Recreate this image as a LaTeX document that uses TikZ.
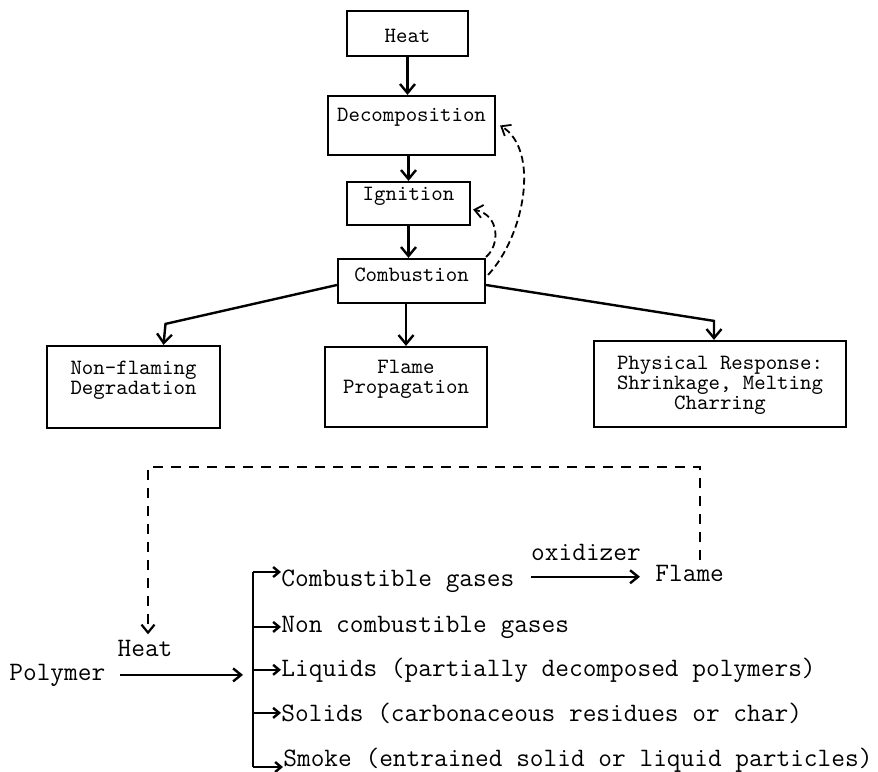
\documentclass[tikz,border=0pt]{standalone}
\usepackage{fontspec}
\usetikzlibrary{arrows.meta,calc}

\tikzset{
  box/.style={draw, line width=1.1pt, inner sep=0pt},
  toptxt/.style={font=\ttfamily\fontsize{10.9}{10}\selectfont, align=center, inner sep=0pt},
  lowtxt/.style={font=\ttfamily\fontsize{13.3}{14}\selectfont, inner sep=0pt},
  arr/.style={line width=1.2pt, -{Straight Barb[length=4.5pt,width=7.5pt]}},
  arrsmall/.style={line width=1.2pt, -{Straight Barb[length=3pt,width=5pt]}},
  arrbig/.style={line width=1.2pt, -{Straight Barb[length=4pt,width=6.5pt]}},
  darr/.style={line width=0.9pt, dash pattern=on 3.5pt off 2pt, -{Straight Barb[length=4pt,width=6.5pt]}},
  fbarr/.style={line width=1.1pt, dash pattern=on 5pt off 4pt, -{Straight Barb[length=4pt,width=6.5pt]}}
}

\begin{document}
\begin{tikzpicture}[x=0.5pt, y=-0.5pt]
    \useasboundingbox (0,0) rectangle (878,771);

    % Draw boxes
    \node[box, minimum width=60.5pt, minimum height=22.5pt] (heat) at (407.5,33.5) {};
    \node[box, minimum width=83.5pt, minimum height=29.5pt] (decomp) at (411.5,125.5) {};
    \node[box, minimum width=61.5pt, minimum height=21.5pt] (ign) at (408.5,203.5) {};
    \node[box, minimum width=73.5pt, minimum height=22pt] (comb) at (411.5,281) {};
    \node[box, minimum width=86.5pt, minimum height=41pt] (nonflame) at (133.5,387) {};
    \node[box, minimum width=81pt, minimum height=40pt] (flameprop) at (406,387) {};
    \node[box, minimum width=126pt, minimum height=43pt] (phys) at (720,384) {};

    % Box texts
    \node[toptxt, anchor=base] (heat-t) at (407.5,42) {Heat};
    \node[toptxt, anchor=base] (decomp-t) at (411.5,121) {Decomposition};
    \node[toptxt, anchor=base] (ign-t) at (408.5,200) {Ignition};
    \node[toptxt, anchor=base] (comb-t) at (411.5,281) {Combustion};
    \node[toptxt, anchor=north] (nonflame-t) at (133.5,361) {Non-flaming\\Degradation};
    \node[toptxt, anchor=north] (flameprop-t) at (406,360) {Flame\\Propagation};
    \node[toptxt, anchor=north] (phys-t) at (720,356) {Physical Response:\\Shrinkage, Melting\\Charring};

    % Draw connections
    \draw[arr] (heat) -- (heat |- decomp.north);
    \draw[arr] (ign |- decomp.south) -- (ign.north);
    \draw[arr] (ign) -- (ign |- comb.north);
    \draw[arr] (flameprop |- comb.south) -- (flameprop.north);
    \draw[arr] ($(comb.west)+(0,4)$) -- ($(nonflame.north)+(32,-21)$) -- ($(nonflame.north)+(30,0)$);
    \draw[arr] ($(comb.east)+(0,4)$) -- ($(phys.north)+(-6,-19)$) -- ($(phys.north)+(-6,0)$);

    % Feedback loops
    \draw[darr] ($(comb.north east)+(2,17)$) .. controls (525,235) and (540,150) .. ($(decomp.east)+(4,0)$);
    \draw[darr] ($(comb.north east)+(0,-1)$) .. controls (500,245) and (500,215) .. ($(ign.east)+(2,6)$);

    % Polymer scheme
    \node[lowtxt, anchor=base west] (polymer) at (9,680) {Polymer};
    \node[lowtxt, anchor=base] (heat2) at (145,656) {Heat};
    \coordinate (split) at (243,674);
    \draw[arrbig, shorten <=7pt] (polymer.east) -- (polymer.east -| split);

    \node[lowtxt, anchor=base west] (gasc) at (281,586) {Combustible gases};
    \node[lowtxt, anchor=base west] (gasn) at (281,632) {Non combustible gases};
    \node[lowtxt, anchor=base west] (liq) at (281,676) {Liquids (partially decomposed polymers)};
    \node[lowtxt, anchor=base west] (sol) at (281,721) {Solids (carbonaceous residues or char)};
    \node[lowtxt, anchor=base west] (smoke) at (283,766) {Smoke (entrained solid or liquid particles)};

    \coordinate (btop) at (253,572);
    \coordinate (bbot) at (253,767);
    \draw[line width=1.2pt] (btop) -- (bbot);
    \draw[arrsmall] (btop) -- (btop -| gasc.west);
    \draw[arrsmall] (bbot |- gasn.west) -- (gasn.west);
    \draw[arrsmall] (bbot |- liq.west) -- (liq.west);
    \draw[arrsmall] (bbot |- sol.west) -- (sol.west);
    \draw[arrsmall] (bbot) -- (bbot -| smoke.west);

    \node[lowtxt, anchor=base] (oxi) at (586,560) {oxidizer};
    \node[lowtxt, anchor=base west] (flame) at (655,581) {Flame};
    \draw[arrbig, shorten <=8pt, shorten >=7.5pt] ([yshift=2pt]gasc.east) -- ([yshift=2pt]gasc.east -| flame.west);

    \coordinate (fb-corner) at (148,467);
    \draw[fbarr, shorten >=2.5pt] ($(flame.north)+(10,-4)$) |- (fb-corner) -- (fb-corner |- heat2.north);
\end{tikzpicture}
\end{document}
